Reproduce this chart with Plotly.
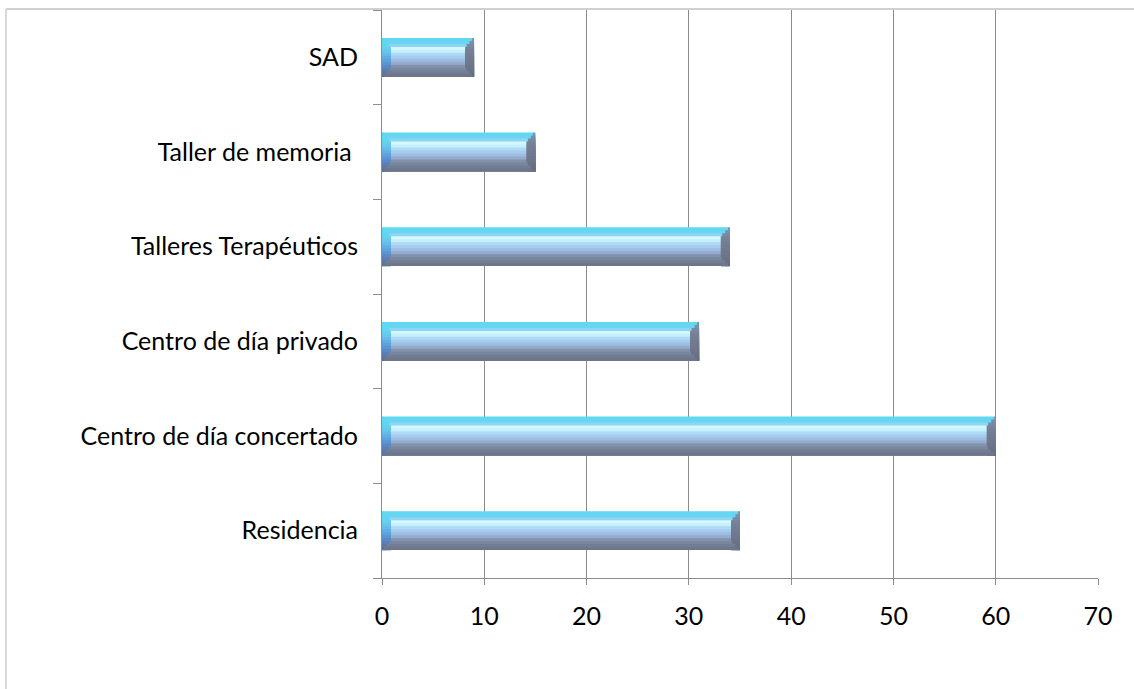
import plotly.graph_objects as go

# Service categories (bottom to top) and their counts
categories = [
    "Residencia",
    "Centro de día concertado",
    "Centro de día privado",
    "Talleres Terapéuticos",
    "Taller de memoria ",
    "SAD",
]
values = [35, 60, 31, 34, 15, 9]

x_ticks = [0, 10, 20, 30, 40, 50, 60, 70]

# Bevelled bar look: the bar is built from thin horizontal layers,
# each with a left cap, a face and a right cap colour.
BAR_WIDTH = 0.41
N_STRIPES = 13
BAR_PX = 39.0           # bar thickness in pixels
BEVEL_PX = 9.0          # bevel depth in pixels
PX_PER_UNIT = 716 / 70  # x-axis pixels per data unit

stripe_colors = [
    # (left cap, face, right cap), top stripe first
    ("#55dcef", "#5fd8f1", "#7d93ad"),
    ("#5cdbef", "#6cd4f2", "#7a8ea8"),
    ("#62d6f0", "#8bd6f4", "#788aa2"),
    ("#66cfee", "#d6f7fd", "#77839a"),
    ("#68c6ec", "#c4effc", "#758096"),
    ("#66bbe8", "#afd9f5", "#737d93"),
    ("#62aee3", "#a5cbee", "#727b90"),
    ("#5ea2dc", "#9ebde2", "#70798d"),
    ("#5b96d2", "#94abcc", "#6e778b"),
    ("#5a8ac4", "#8392ab", "#6c7589"),
    ("#5a80b5", "#79869f", "#6a7286"),
    ("#5a78a8", "#727c92", "#687084"),
    ("#58719d", "#6d768a", "#666e82"),
]

fig = go.Figure()

stripe_h = BAR_WIDTH / N_STRIPES
for i, (c_left, c_face, c_right) in enumerate(stripe_colors):
    # each layer reaches from the bar bottom up to its own top edge,
    # later layers cover the lower part of earlier ones
    top = BAR_WIDTH / 2 - i * stripe_h
    span = top + BAR_WIDTH / 2
    centre_px = (i + 0.5) * BAR_PX / N_STRIPES
    dist_px = min(centre_px, BAR_PX - centre_px)
    cap = min(dist_px, BEVEL_PX) / PX_PER_UNIT
    caps = [min(cap, v / 2) for v in values]
    common = dict(
        y=categories, orientation="h", width=span, offset=-BAR_WIDTH / 2,
        marker=dict(line=dict(width=0)), showlegend=False, hoverinfo="skip",
    )
    # left cap
    fig.add_trace(go.Bar(x=caps, base=[0] * len(values),
                         marker_color=c_left, **common))
    # face
    fig.add_trace(go.Bar(x=[v - 2 * c for v, c in zip(values, caps)],
                         base=caps, marker_color=c_face, **common))
    # right cap
    fig.add_trace(go.Bar(x=caps, base=[v - c for v, c in zip(values, caps)],
                         marker_color=c_right, **common))

font = dict(family="Lato, Open Sans, sans-serif", size=25, color="#000000")

fig.update_layout(
    barmode="overlay",
    width=1134,
    height=689,
    margin=dict(l=382, r=36, t=10, b=111),
    paper_bgcolor="white",
    plot_bgcolor="white",
    font=font,
    xaxis=dict(
        range=[0, 70],
        tickvals=x_ticks,
        ticktext=[str(t) for t in x_ticks],
        showgrid=True,
        gridcolor="#8c8c8c",
        gridwidth=1,
        zeroline=False,
        showline=True,
        linecolor="#8c8c8c",
        linewidth=1,
        ticks="outside",
        ticklen=6,
        tickcolor="#8c8c8c",
        ticklabelstandoff=10,
        tickfont=font,
        fixedrange=True,
    ),
    yaxis=dict(
        categoryorder="array",
        categoryarray=categories,
        showgrid=False,
        zeroline=False,
        showline=True,
        linecolor="#8c8c8c",
        linewidth=1,
        ticks="outside",
        tickson="boundaries",
        ticklen=8,
        tickcolor="#8c8c8c",
        ticklabelstandoff=18,
        tickfont=font,
        fixedrange=True,
    ),
    shapes=[
        # outer chart frame (top and left edges are the visible ones)
        dict(type="line", xref="paper", yref="paper",
             x0=(6 - 382) / 716, x1=(1134 - 382) / 716,
             y0=1 + 1 / 568, y1=1 + 1 / 568,
             line=dict(color="#d0d0d0", width=2)),
        dict(type="line", xref="paper", yref="paper",
             x0=(6 - 382) / 716, x1=(6 - 382) / 716,
             y0=1 + 1 / 568, y1=-111 / 568,
             line=dict(color="#d9d9d9", width=2)),
    ],
)

fig.write_html("out.html")
